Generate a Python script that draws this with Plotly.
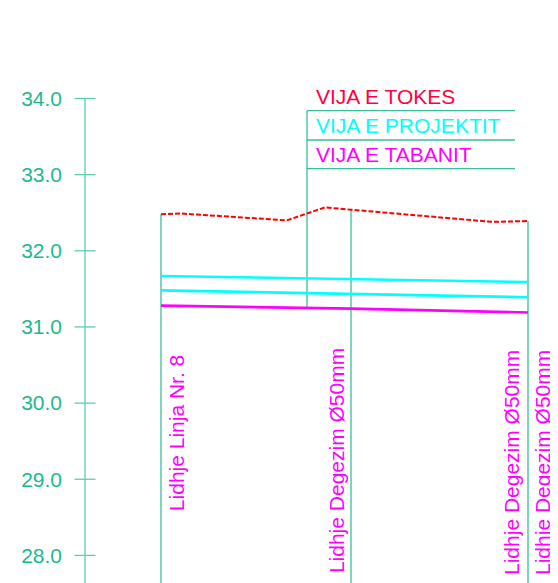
import plotly.graph_objects as go

# ---- data (stations in m, levels in m) ----
ground_st = [0.0, 1.9, 12.6, 16.4, 19.0, 33.1, 36.7]
ground_lv = [32.48, 32.49, 32.40, 32.57, 32.54, 32.38, 32.39]

proj_st = [0.0, 19.0, 36.7]
proj_top = [31.67, 31.63, 31.59]
proj_bot = [31.48, 31.43, 31.39]

base_st = [0.0, 19.0, 36.7]
base_lv = [31.28, 31.24, 31.19]

node_st = [0.0, 19.0, 36.7]          # vertical connection lines
node_bottom = 27.0

label_st = [1.5, 17.5, 35.1, 38.2]
label_bottom = [28.555, 27.735, 27.71, 27.71]
label_text = ["Lidhje Linja Nr. 8", "Lidhje Degezim Ø50mm",
              "Lidhje Degezim Ø50mm", "Lidhje Degezim Ø50mm"]

legend_text = ["VIJA E TOKES", "VIJA E PROJEKTIT", "VIJA E TABANIT"]
legend_col = ["#ff0040", "#00ffff", "#ff00ff"]
legend_y = [34.03, 33.65, 33.26]
legend_rules = [33.84, 33.455, 33.08]
legend_x0, legend_x1 = 14.6, 35.4
legend_drop = 31.24

y_ticks = [28.0, 29.0, 30.0, 31.0, 32.0, 33.0, 34.0]
axis_st = -7.6

TEAL = "#1db98c"
LINE_TEAL = "#36bf98"
FONT = "Liberation Sans, Arial, sans-serif"

# page has an 8px body margin: figure covers page pixels 8..558 x 8..583
W, H, OFF = 550, 575, 8

fig = go.Figure()

def line(x, y, color, width=1.3, dash=None):
    fig.add_trace(go.Scatter(x=x, y=y, mode="lines", hoverinfo="skip",
                             line=dict(color=color, width=width, dash=dash),
                             showlegend=False))

# axis line and ticks
line([axis_st, axis_st], [y_ticks[-1], node_bottom], "#5ccfae", 1.3)
fig.add_trace(go.Scatter(x=[axis_st] * len(y_ticks), y=y_ticks, mode="markers",
                         marker=dict(symbol="line-ew", size=15,
                                     line=dict(color="#5ccfae", width=1.3)),
                         hoverinfo="skip", showlegend=False))

# vertical node lines (from ground down)
def ground_at(s):
    for i in range(len(ground_st) - 1):
        if ground_st[i] <= s <= ground_st[i + 1]:
            t = (s - ground_st[i]) / (ground_st[i + 1] - ground_st[i])
            return ground_lv[i] + t * (ground_lv[i + 1] - ground_lv[i])
    return ground_lv[-1]

for s in node_st:
    line([s, s], [ground_at(s), node_bottom], LINE_TEAL, 1.3)

# legend box
line([legend_x0, legend_x0], [legend_rules[0], legend_drop], LINE_TEAL, 1.3)
for r in legend_rules:
    line([legend_x0, legend_x1], [r, r], LINE_TEAL, 1.3)

# profile lines
line(ground_st, ground_lv, "#ff0000", 2, "5px,2px")
line(proj_st, proj_top, "#00ffff", 2.6)
line(proj_st, proj_bot, "#00ffff", 2.6)
line(base_st, base_lv, "#ff00ff", 2.6)

ann = []
for t, c, y in zip(legend_text, legend_col, legend_y):
    ann.append(dict(x=15.3, y=y, xref="x", yref="y", text=t, showarrow=False,
                    xanchor="left", yanchor="middle",
                    font=dict(family=FONT, size=21, color=c)))
for s, b, t in zip(label_st, label_bottom, label_text):
    ann.append(dict(x=s, y=b, xref="x", yref="y", text=t, showarrow=False,
                    textangle=-90, xanchor="center", yanchor="bottom",
                    font=dict(family=FONT, size=21, color="#ff00ff")))

fig.update_layout(
    width=W, height=H,
    margin=dict(l=0, r=0, t=0, b=0),
    paper_bgcolor="white", plot_bgcolor="white",
    annotations=ann,
    xaxis=dict(range=[-15.3, 39.7], visible=False, fixedrange=True),
    yaxis=dict(range=[27.6376, 35.1884], anchor="free", position=(85 - OFF) / W,
               tickvals=y_ticks, ticktext=[f"{v:.1f}" for v in y_ticks],
               tickfont=dict(family=FONT, size=21, color=TEAL),
               showgrid=False, zeroline=False, showline=False, ticks="",
               ticklabelstandoff=23, fixedrange=True),
)

fig.write_html("out.html")
